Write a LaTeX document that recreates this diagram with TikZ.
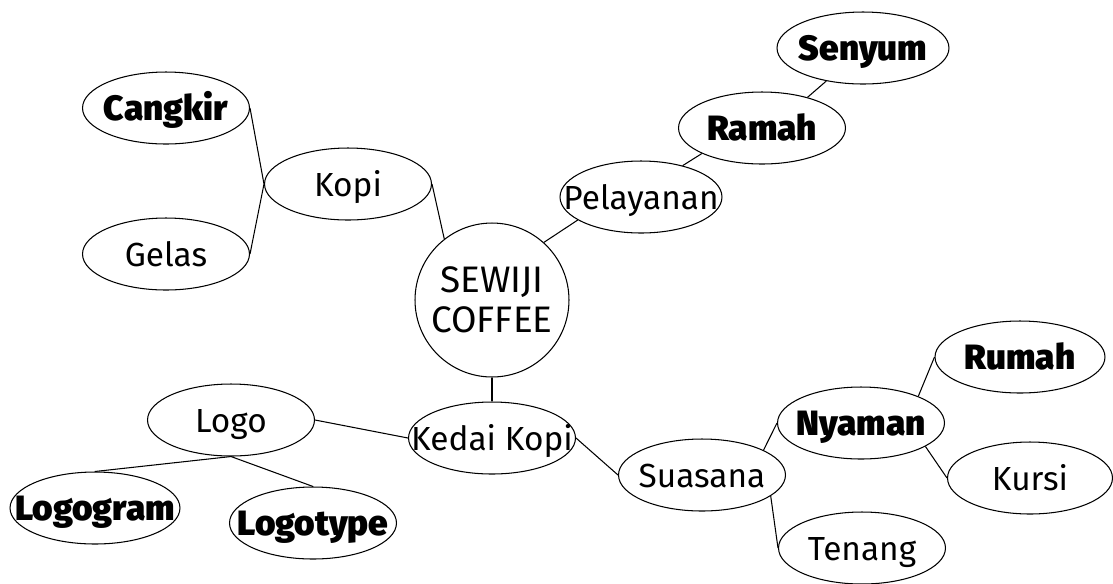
\documentclass[tikz,border=0pt]{standalone}
\usepackage{fontspec}
\setmainfont{Fira Sans}[BoldFont={Fira Sans Black}]
\usetikzlibrary{shapes.geometric}
\usetikzlibrary{positioning}
\newcommand{\ctext}[1]{\makebox[0pt]{#1}}

\begin{document}
\begin{tikzpicture}
			[x=0.02cm,y=-0.02cm,line width=0.6pt,
			every node/.style={ellipse,draw,inner sep=0pt,minimum width=3.34cm,minimum height=1.44cm,
			text height=14pt,text depth=0pt,font=\fontsize{19}{21}\selectfont},
			key/.style={font=\fontsize{20}{21}\selectfont\bfseries}]
			\useasboundingbox (0,0) rectangle (1113,583);
			\node (sewiji) [circle,minimum size=3.08cm,align=center,text height=,text depth=,
			font=\fontsize{21}{23}\selectfont] at (492,300) {SEWIJI\\COFFEE};
			\node (kopi) at (348,184) {\ctext{Kopi}};
			\node (cangkir) [key] at (166,108) {\ctext{Cangkir}};
			\node (gelas) at (166,254) {\ctext{Gelas}};
			\node (pelayanan) [minimum width=3.24cm] at (641,197) {\ctext{Pelayanan}};
			\node (ramah) [key] at (762,128) {\ctext{Ramah}};
			\node (senyum) [key,minimum width=3.44cm] at (863,48) {\ctext{Senyum}};
			\node (kedai) at (492,438) {\ctext{Kedai Kopi}};
			\node (logo) at (231,420) {\ctext{Logo}};
			\node (logogram) [key,minimum width=3.4cm] at (95,508) {\ctext{Logogram}};
			\node (logotype) [key] at (313,523) {\ctext{Logotype}};
			\node (suasana) at (702,475) {\ctext{Suasana}};
			\node (nyaman) [key] at (861,423) {\ctext{Nyaman}};
			\node (rumah) [key,minimum width=3.4cm] at (1020,357) {\ctext{Rumah}};
			\node (kursi) [minimum width=3.3cm] at (1030,478) {\ctext{Kursi}};
			\node (tenang) at (862,548) {\ctext{Tenang}};
			
			\foreach \from/\to in 
			{cangkir.east/kopi.west, gelas.east/kopi.west, kopi.east/sewiji.128,
			sewiji.48/pelayanan.200, pelayanan.37/ramah.203, ramah.34/senyum.222,
			sewiji.south/kedai.north, logo.east/kedai.west, logo.south/logogram.north,
			logo.south/logotype.north, kedai.east/suasana.west, suasana.22/nyaman.west,
			suasana.343/tenang.west, nyaman.25/rumah.west, nyaman.340/kursi.west}
			\draw (\from) -- (\to);
			\end{tikzpicture}
\end{document}
